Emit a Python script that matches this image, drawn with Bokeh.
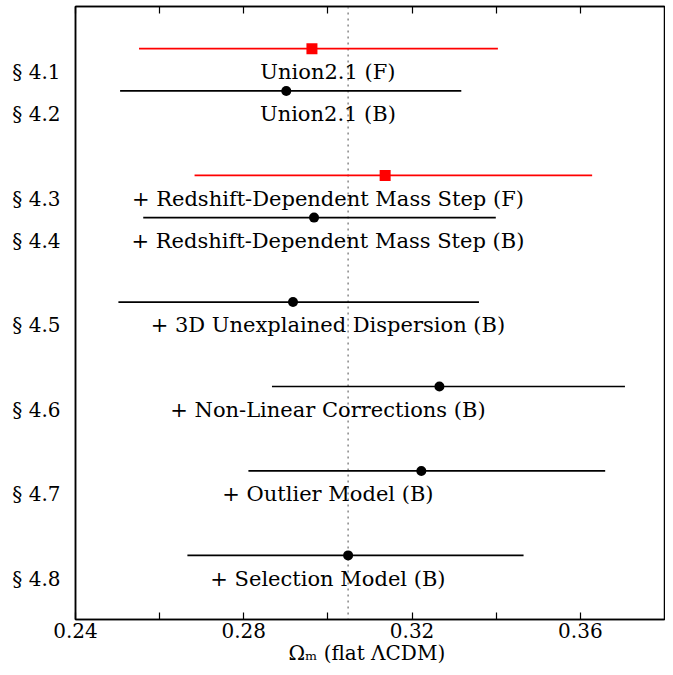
from bokeh.plotting import figure
from bokeh.models import Range1d, FixedTicker, LinearAxis, Span, ColumnDataSource
from bokeh.embed import file_html
from bokeh.resources import INLINE

# ---- data ----
sections = ["§ 4.1", "§ 4.2", "§ 4.3", "§ 4.4", "§ 4.5", "§ 4.6", "§ 4.7", "§ 4.8"]
names = ["Union2.1 (F)", "Union2.1 (B)",
         "+ Redshift-Dependent Mass Step (F)", "+ Redshift-Dependent Mass Step (B)",
         "+ 3D Unexplained Dispersion (B)", "+ Non-Linear Corrections (B)",
         "+ Outlier Model (B)", "+ Selection Model (B)"]
rows = [1, 2, 4, 5, 7, 9, 11, 13]
fit_type = ["F", "B", "F", "B", "B", "B", "B", "B"]
om_best = [0.2962, 0.2901, 0.3136, 0.2967, 0.2917, 0.3265, 0.3222, 0.3048]
om_lo = [0.2551, 0.2506, 0.2683, 0.2561, 0.2502, 0.2867, 0.2811, 0.2666]
om_hi = [0.3404, 0.3317, 0.3628, 0.3399, 0.3359, 0.3706, 0.3659, 0.3465]
x_major = [0.24, 0.28, 0.32, 0.36]
x_minor = [0.26, 0.30, 0.34]
reference_om = om_best[-1]
text_x = 0.30

FONT = "DejaVu Serif"
mark_offset = 0.55
mark_y = [r - mark_offset for r in rows]

p = figure(width=665, height=667, output_backend="svg", toolbar_location=None,
           x_range=Range1d(0.24, 0.38), y_range=Range1d(13.968, -0.55),
           min_border_left=75, min_border_right=1, min_border_top=6,
           min_border_bottom=10, background_fill_color="white",
           border_fill_color="white")
p.grid.visible = False
p.outline_line_color = "black"
p.outline_line_width = 1.5

# reference line
p.add_layout(Span(location=reference_om, dimension="height", line_color="#888888",
                  line_dash="2 4", line_width=1.5, level="underlay"))

col = ["#ff0000" if f == "F" else "black" for f in fit_type]
src = ColumnDataSource(dict(y=mark_y, lo=om_lo, hi=om_hi, om=om_best, c=col,
                            yt=rows, name=names))
p.segment(x0="lo", x1="hi", y0="y", y1="y", line_color="c", line_width=1.7, source=src)

fsrc = ColumnDataSource(dict(x=[o for o, f in zip(om_best, fit_type) if f == "F"],
                             y=[y for y, f in zip(mark_y, fit_type) if f == "F"]))
bsrc = ColumnDataSource(dict(x=[o for o, f in zip(om_best, fit_type) if f == "B"],
                             y=[y for y, f in zip(mark_y, fit_type) if f == "B"]))
p.scatter("x", "y", marker="square", size=11, color="#ff0000", line_width=0, source=fsrc)
p.scatter("x", "y", marker="circle", size=10, color="black", line_width=0, source=bsrc)

p.text(x=text_x, y="yt", text="name", source=src, text_align="center",
       text_baseline="middle", text_font={"value": FONT}, text_font_size="21px",
       text_color="black")

# x axis
xa = p.xaxis[0]
xa.ticker = FixedTicker(ticks=x_major, minor_ticks=x_minor)
xa.major_tick_in = 7
xa.major_tick_out = 0
xa.minor_tick_in = 7
xa.minor_tick_out = 0
xa.major_tick_line_width = 1.2
xa.minor_tick_line_width = 1.2
xa.axis_line_width = 1.5
xa.major_label_text_font = FONT
xa.major_label_text_font_size = "20px"
xa.major_label_text_color = "black"
xa.major_label_standoff = 3
xa.axis_label = "Ωₘ  (flat ΛCDM)"
xa.axis_label_text_font = FONT
xa.axis_label_text_font_size = "20px"
xa.axis_label_text_font_style = "normal"
xa.axis_label_text_color = "black"
xa.axis_label_standoff = 0

# top axis (ticks only, no labels)
ta = LinearAxis(ticker=FixedTicker(ticks=x_major, minor_ticks=x_minor),
                major_tick_in=7, major_tick_out=0, minor_tick_in=7, minor_tick_out=0,
                major_tick_line_width=1.2, minor_tick_line_width=1.2,
                axis_line_width=1.5, major_label_text_font_size="1px",
                major_label_overrides={t: "" for t in x_major},
                major_label_standoff=0)
p.add_layout(ta, "above")

# y axis
ya = p.yaxis[0]
ya.ticker = FixedTicker(ticks=rows)
ya.major_label_overrides = {r: s for r, s in zip(rows, sections)}
ya.major_tick_in = 0
ya.major_tick_out = 0
ya.minor_tick_in = 0
ya.minor_tick_out = 0
ya.axis_line_width = 1.5
ya.major_label_text_font = FONT
ya.major_label_text_font_size = "20px"
ya.major_label_text_color = "black"
ya.major_label_standoff = 15

open("out.html", "w").write(file_html(p, INLINE))
